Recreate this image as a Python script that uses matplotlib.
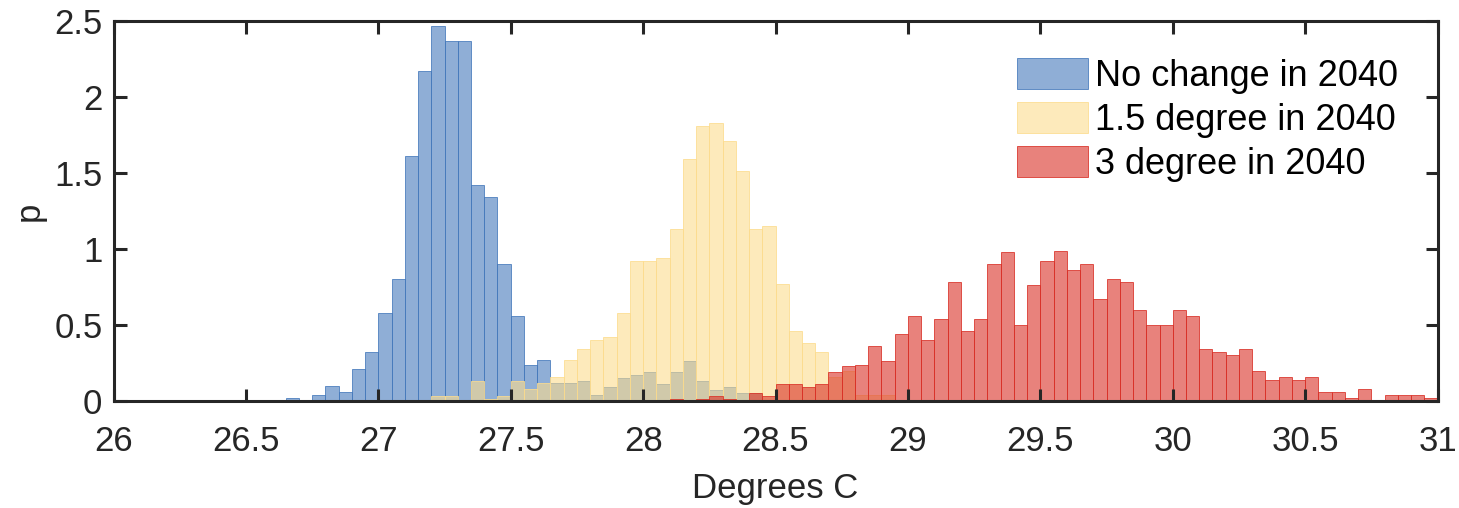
import matplotlib
matplotlib.use('Agg')
import matplotlib.pyplot as plt
import numpy as np

plt.rcParams['font.family'] = ['Liberation Sans', 'DejaVu Sans']

# histogram data (bin width 0.05 degC)
bin_width = 0.05

nochange_start = 26.65
nochange_p = [0.02, 0.00, 0.04, 0.10, 0.06, 0.21, 0.32, 0.58, 0.80, 1.61,
              2.17, 2.47, 2.37, 2.37, 1.42, 1.34, 0.90, 0.56, 0.24, 0.27,
              0.12, 0.12, 0.13, 0.04, 0.09, 0.15, 0.17, 0.19, 0.11, 0.19,
              0.26, 0.13, 0.07, 0.09, 0.05, 0.05]

deg15_start = 27.20
deg15_p = [0.03, 0.03, 0.00, 0.13, 0.01, 0.03, 0.13, 0.08, 0.12, 0.16,
           0.27, 0.34, 0.40, 0.42, 0.58, 0.92, 0.92, 0.94, 1.13, 1.59,
           1.81, 1.83, 1.71, 1.51, 1.13, 1.15, 0.77, 0.46, 0.38, 0.32,
           0.16, 0.20, 0.04, 0.04, 0.04]

deg3_start = 28.10
deg3_p = [0.01, 0.00, 0.01, 0.03, 0.01, 0.00, 0.05, 0.03, 0.11, 0.11,
          0.09, 0.11, 0.19, 0.23, 0.24, 0.36, 0.26, 0.44, 0.56, 0.40,
          0.54, 0.78, 0.46, 0.54, 0.90, 0.98, 0.50, 0.76, 0.92, 0.99,
          0.86, 0.90, 0.67, 0.80, 0.78, 0.60, 0.50, 0.50, 0.60, 0.56,
          0.34, 0.32, 0.30, 0.34, 0.20, 0.14, 0.16, 0.14, 0.16, 0.06,
          0.06, 0.02, 0.08, 0.00, 0.04, 0.04, 0.04, 0.02]

labels = ['No change in 2040', '1.5 degree in 2040', '3 degree in 2040']
xticks = [26, 26.5, 27, 27.5, 28, 28.5, 29, 29.5, 30, 30.5, 31]
xticklabels = ['26', '26.5', '27', '27.5', '28', '28.5', '29', '29.5', '30', '30.5', '31']
yticks = [0, 0.5, 1, 1.5, 2, 2.5]
yticklabels = ['0', '0.5', '1', '1.5', '2', '2.5']

c_blue = (0.267, 0.471, 0.733)
c_yellow = (0.988, 0.863, 0.557)
c_red = (0.851, 0.184, 0.145)
txt = '#262626'

fig = plt.figure(figsize=(14.59, 5.08), dpi=100)
ax = fig.add_axes([0.0778, 0.2106, 0.9075, 0.7481])


def draw(start, vals, rgb, label):
    x = start + bin_width * np.arange(len(vals))
    ax.bar(x, vals, width=bin_width, align='edge',
           color=(*rgb, 0.6), edgecolor=(*rgb, 0.8), linewidth=0.7,
           label=label)


draw(nochange_start, nochange_p, c_blue, labels[0])
draw(deg15_start, deg15_p, c_yellow, labels[1])
draw(deg3_start, deg3_p, c_red, labels[2])

ax.set_xlim(26, 31)
ax.set_ylim(0, 2.5)
ax.set_xticks(xticks)
ax.set_xticklabels(xticklabels)
ax.set_yticks(yticks)
ax.set_yticklabels(yticklabels)

for s in ax.spines.values():
    s.set_linewidth(2.2)
    s.set_color(txt)
ax.tick_params(direction='in', length=9, width=2.2, colors=txt,
               labelsize=25, top=True, right=True)
ax.tick_params(axis='x', pad=17)
ax.tick_params(axis='y', pad=8)

ax.set_xlabel('Degrees C', fontsize=25, color=txt, labelpad=10)
ax.set_ylabel('p', fontsize=25, color=txt, labelpad=6)

ax.legend(loc='upper right', bbox_to_anchor=(0.981, 0.94), frameon=False,
          fontsize=26, handlelength=1.95, handleheight=0.95,
          handletextpad=0.2, labelspacing=0.22, borderaxespad=0)

fig.savefig('out.png', dpi=100)
